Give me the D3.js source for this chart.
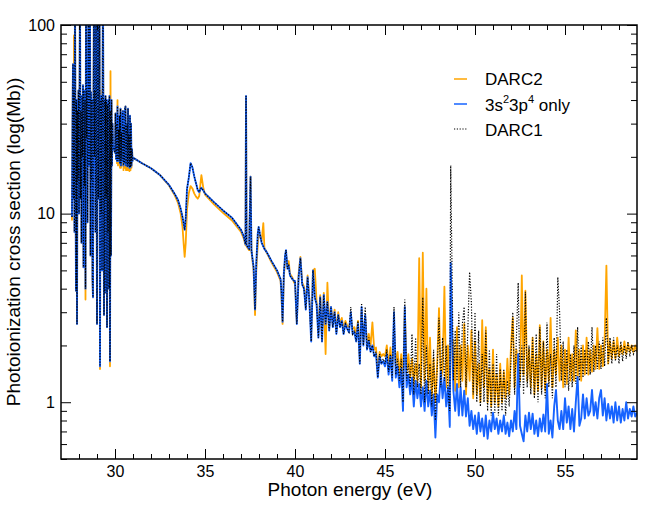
<!DOCTYPE html>
<html><head><meta charset="utf-8">
<script src="https://cdn.jsdelivr.net/npm/d3@7"></script>
<style>
body{margin:0;background:#fff}
svg{display:block}
text{font-family:"Liberation Sans",Arial,Helvetica,sans-serif}
</style>
</head><body>
<svg id="chart" width="660" height="510"></svg>
<script>
// ---------------- data ----------------
const xTicksMajor = [30, 35, 40, 45, 50, 55];
const xTicksMinor = [28, 29, 31, 32, 33, 34, 36, 37, 38, 39, 41, 42, 43, 44, 46, 47, 48, 49, 51, 52, 53, 54, 56, 57, 58];
const yTicksMajor = [1, 10, 100];
const yTicksMinor = [0.5, 0.6, 0.7, 0.8, 0.9, 2, 3, 4, 5, 6, 7, 8, 9, 20, 30, 40, 50, 60, 70, 80, 90];
const seriesNames = ["DARC2", "3s23p4 only", "DARC1"];

// [energy eV, 3s23p4-only (= DARC1 here), DARC2]
const lowRows = [
[27.611,9.6,9.2],[27.639,30,30],[27.667,62,62],[27.694,12,12],[27.722,45,88],[27.750,8,8],
[27.778,150,150],[27.806,20,20],[27.833,3.9,3.9],[27.861,40,40],[27.889,2.6,2.6],[27.917,35,35],
[27.944,15,15],[27.972,45,45],[28.000,10,10],[28.028,40,40],[28.056,150,150],[28.083,12,12],
[28.111,35,35],[28.139,7,7],[28.167,42,42],[28.194,20,20],[28.222,48,48],[28.250,5.2,5.2],
[28.278,45,45],[28.306,14,14],[28.333,40,40],[28.361,4.0,3.5],[28.389,130,130],[28.417,25,25],
[28.444,45,45],[28.472,9,9],[28.500,40,40],[28.528,150,150],[28.556,18,18],[28.583,46,46],
[28.611,150,150],[28.639,6,6],[28.667,44,44],[28.694,15,15],[28.722,40,40],[28.750,4.5,4.5],
[28.778,3.6,3.6],[28.806,42,42],[28.833,150,150],[28.861,20,20],[28.889,45,45],[28.917,8,8],
[28.944,150,150],[28.972,30,30],[29.000,2.6,2.6],[29.028,40,40],[29.056,150,150],[29.083,12,12],
[29.111,44,44],[29.139,150,150],[29.167,1.55,1.5],[29.194,40,45],[29.222,10,10],[29.250,42,42],
[29.278,5,5],[29.306,38,38],[29.333,150,150],[29.361,20,20],[29.389,2.9,2.9],[29.417,40,40],
[29.444,3.8,3.8],[29.472,42,42],[29.500,12,12],[29.528,40,40],[29.556,2.5,2.5],[29.583,38,38],
[29.611,8,8],[29.639,40,40],[29.667,4,4],[29.694,42,42],[29.722,1.65,1.55],[29.750,35,57],
[29.778,6,6],[29.806,40,40],[29.833,18,18],[29.861,30,30],[29.889,23,23],[29.944,22,22],
[30.000,21,21],[30.028,34,34],[30.056,19.5,19.5],[30.083,30,30],[30.111,19,18.5],[30.139,37,40],
[30.167,19,18],[30.194,28,28],[30.222,19.5,19],[30.250,33,33],[30.278,18.5,17.5],[30.306,36,36],
[30.333,18,17.5],[30.361,27,27],[30.389,19,18],[30.417,34,34],[30.444,35,35],[30.472,18,17],
[30.500,29,29],[30.528,18.5,17.5],[30.556,36,36],[30.583,37,37],[30.611,18,17],[30.639,26,26],
[30.667,30,30],[30.694,17.8,17],[30.722,36,36],[30.750,18,17],[30.778,26,26],[30.806,17.5,16.8],
[30.833,33,33],[30.861,17.6,17],[30.889,30,30],[30.917,18,17.5],[30.944,22,22],[30.972,19,19]
];

// [energy eV, 3s23p4-only (= DARC1 here), DARC2]
const midRows = [
[31.0,19.8,19.8],[31.5,18.5,18.5],[32.0,17.4,17.4],[32.5,16.0,16.0],[33.0,14.2,14.1],
[33.3,12.8,12.6],[33.5,11.8,11.4],[33.65,10.6,10.0],[33.75,9.6,8.5],[33.82,8.8,6.8],
[33.87,8.2,5.9],[33.93,9.5,7.0],[34.0,13.5,10.5],[34.1,15.5,12.8],[34.2,18.5,14.0],
[34.3,17.6,13.6],[34.4,15.8,12.8],[34.5,14.5,12.3],[34.6,13.3,12.0],[34.68,13.0,12.4],
[34.75,13.5,14.5],[34.8,13.7,16.0],[34.9,13.3,13.8],[35.0,12.8,12.6],[35.5,11.5,11.2],
[36.0,10.4,10.1],[36.5,9.5,9.2],[37.0,8.2,8.0],[37.15,7.6,7.4],[37.25,6.9,6.8],
[37.28,42,42],[37.31,6.8,6.7],[37.45,6.5,6.4],[37.53,15.7,15.7],[37.58,6.4,6.3],
[37.7,5.2,5.0],[37.78,3.1,2.9],[37.85,5.5,5.0],[37.93,7.8,6.8],[37.98,8.5,7.8],
[38.05,7.8,7.6],[38.15,7.0,7.2],[38.24,6.7,8.9],[38.3,6.5,6.6],[38.43,6.25,6.2],
[38.7,5.6,5.5],[39.0,5.0,4.9],[39.2,4.5,4.4],[39.25,3.8,3.6],[39.31,2.67,2.6],
[39.38,4.8,4.6],[39.45,6.0,5.7],[39.5,6.4,6.1],[39.58,5.1,5.3],[39.65,5.3,5.6],
[39.72,4.7,4.8],[39.85,4.5,4.6],[39.95,4.4,4.3]
];

// [energy eV, 3s23p4-only, DARC1, DARC2]
const highRows = [
[40.0,4.4,4.4,4.3],[40.1,2.6,2.6,2.7],[40.2,4.6,4.6,4.8],[40.3,5.8,5.8,5.9],[40.4,4.2,4.2,4.3],
[40.5,4.0,4.0,4.1],[40.6,3.1,3.1,3.3],[40.7,4.6,4.6,4.7],[40.8,3.4,3.4,3.5],[40.9,2.1,2.1,2.3],
[41.0,5.0,5.0,5.0],[41.1,3.6,3.6,5.1],[41.2,3.3,3.3,3.4],[41.3,2.2,2.2,2.4],[41.4,3.6,3.6,3.7],
[41.5,2.1,2.1,2.2],[41.6,3.7,3.7,3.8],[41.7,2.6,2.6,1.8],[41.8,3.4,3.4,4.3],[41.9,2.4,2.4,2.5],
[42.0,3.2,3.2,3.2],[42.1,2.5,2.5,2.6],[42.2,3.0,3.0,3.1],[42.3,2.3,2.3,2.4],[42.4,2.9,2.9,3.0],
[42.5,2.5,2.5,2.6],[42.6,2.7,2.7,2.8],[42.7,2.3,2.3,2.45],[42.8,2.6,2.6,2.7],[42.9,2.45,2.45,2.55],
[43.0,2.35,2.35,2.5],[43.1,3.0,3.2,2.8],[43.2,2.3,2.3,2.45],[43.3,2.35,2.4,2.5],[43.4,2.1,2.1,2.25],
[43.5,2.6,2.7,2.7],[43.6,1.6,1.6,1.75],[43.7,3.2,3.35,3.1],[43.8,2.0,2.0,2.1],[43.9,2.9,3.2,2.8],
[44.0,1.9,1.9,2.05],[44.1,2.1,2.2,2.3],[44.2,1.85,1.85,2.0],[44.3,2.0,2.0,2.65],[44.4,1.75,1.75,1.9],
[44.5,1.8,1.85,1.95],[44.6,1.35,1.35,1.45],[44.7,1.75,1.8,1.85],[44.8,1.6,1.6,1.75],[44.9,1.65,1.7,1.8],
[45.0,1.55,1.6,1.75],[45.1,1.8,1.9,2.0],[45.2,1.4,1.45,1.55],[45.3,1.75,1.8,1.95],[45.4,1.3,1.35,1.5],
[45.5,3.0,3.2,2.4],[45.6,1.35,1.4,1.6],[45.7,1.55,1.7,1.85],[45.8,1.2,1.3,1.4],[45.9,1.5,1.7,1.8],
[46.0,0.9,1.0,1.25],[46.1,3.2,3.5,3.2],[46.2,1.2,1.3,1.45],[46.3,1.4,1.6,1.8],[46.4,1.1,1.2,1.35],
[46.5,1.35,2.3,1.7],[46.6,0.95,1.1,1.25],[46.7,1.3,2.2,1.6],[46.8,1.05,1.2,1.3],[46.9,1.25,1.6,5.8],
[47.0,0.95,1.1,1.2],[47.1,1.2,3.6,6.2],[47.2,0.9,1.0,1.3],[47.3,1.3,2.0,4.0],[47.4,0.95,1.1,1.15],
[47.5,1.15,1.6,2.2],[47.6,0.85,0.95,1.05],[47.7,1.1,1.9,1.7],[47.8,0.65,0.8,1.0],[47.9,1.1,1.5,1.6],
[48.0,1.0,2.8,3.15],[48.1,1.45,1.2,1.3],[48.2,1.05,2.2,1.5],[48.3,1.35,1.3,4.1],[48.4,0.95,2.0,1.2],
[48.5,1.2,1.15,2.0],[48.6,0.74,0.9,1.0],[48.65,5.5,18,2.1],[48.8,1.15,1.3,2.13],[48.9,0.9,2.4,1.15],
[49.0,1.25,1.3,2.5],[49.1,0.85,3.0,1.2],[49.2,1.2,1.2,2.0],[49.3,0.85,2.6,1.3],[49.4,1.15,3.2,2.6],
[49.5,0.84,1.2,1.1],[49.6,1.05,2.4,2.0],[49.7,0.75,4.9,1.3],[49.8,0.9,3.35,2.4],[49.9,0.72,1.1,1.05],
[50.0,0.85,3.0,2.1],[50.1,0.68,1.0,1.1],[50.2,0.88,2.4,1.6],[50.3,0.7,0.95,1.0],[50.4,0.82,1.8,2.72],
[50.5,0.66,1.0,1.2],[50.6,0.85,2.4,2.5],[50.7,0.64,0.9,1.0],[50.8,0.8,1.9,1.5],[50.9,0.7,0.85,0.95],
[51.0,0.88,1.6,1.9],[51.1,0.72,0.88,1.0],[51.2,0.82,1.8,1.4],[51.3,0.68,0.85,0.95],[51.4,0.8,1.5,1.6],
[51.5,0.7,0.9,1.0],[51.6,0.85,1.5,1.45],[51.7,0.68,0.85,1.05],[51.8,0.78,1.3,1.7],[51.9,0.66,0.95,1.1],
[52.0,0.8,1.7,2.0],[52.1,0.7,3.0,2.8],[52.2,0.9,1.1,1.2],[52.3,0.72,2.2,1.9],[52.4,1.8,4.3,1.5],
[52.5,0.75,1.2,1.3],[52.6,0.68,2.0,4.7],[52.7,0.62,1.1,1.4],[52.8,0.85,3.85,3.9],[52.9,0.7,1.2,1.3],
[53.0,0.88,2.0,1.9],[53.1,0.72,1.1,1.2],[53.2,0.87,2.2,2.2],[53.3,0.68,1.05,1.1],[53.4,0.8,2.3,1.8],
[53.5,0.66,1.0,1.15],[53.6,0.82,2.5,2.56],[53.7,0.7,1.1,1.2],[53.8,0.86,2.1,2.1],[53.9,0.7,1.05,1.15],
[54.0,1.25,2.65,1.9],[54.1,0.68,1.2,1.3],[54.2,0.8,1.8,2.8],[54.3,0.65,1.05,1.2],[54.4,0.95,2.2,1.9],
[54.5,1.16,1.2,1.4],[54.6,0.8,4.6,2.2],[54.7,0.72,3.0,1.3],[54.8,0.9,1.3,2.0],[54.9,0.72,2.1,1.2],
[55.0,1.05,1.2,1.9],[55.1,0.78,1.9,1.25],[55.2,0.95,1.15,2.2],[55.3,0.72,1.8,1.3],[55.4,0.92,1.2,1.8],
[55.5,0.7,2.0,1.3],[55.6,1.0,1.25,2.4],[55.7,1.36,2.5,1.35],[55.8,0.75,1.3,1.9],[55.9,0.82,2.0,1.3],
[56.0,1.1,1.35,2.0],[56.1,0.82,1.9,1.4],[56.2,1.05,1.4,2.2],[56.3,0.85,2.1,1.4],[56.4,0.9,1.4,1.9],
[56.5,1.16,2.5,1.45],[56.6,0.85,1.45,2.0],[56.7,1.0,2.0,1.5],[56.8,0.82,1.5,2.47],[56.9,1.05,2.1,1.5],
[57.0,1.16,1.5,2.0],[57.1,0.85,2.2,1.55],[57.2,1.05,1.55,2.1],[57.3,0.8,2.8,5.3],[57.4,0.98,1.6,1.6],
[57.5,0.82,2.2,2.1],[57.6,0.95,1.6,1.7],[57.7,0.78,2.2,2.1],[57.8,1.0,1.65,1.7],[57.9,0.8,2.0,2.2],
[58.0,0.95,1.6,1.75],[58.1,0.78,2.1,2.0],[58.2,0.92,1.65,1.8],[58.3,0.8,2.0,2.1],[58.4,1.0,1.7,1.8],
[58.5,0.82,2.1,2.05],[58.6,0.92,1.75,1.85],[58.7,0.84,2.0,2.0],[58.8,0.95,1.8,1.85],[58.9,0.84,1.9,2.0],
[59.0,0.88,1.85,1.85]
];

// ---------------- build series ----------------
const darc2 = [].concat(lowRows.map(r => [r[0], r[2]]), midRows.map(r => [r[0], r[2]]), highRows.map(r => [r[0], r[3]]));
const only  = [].concat(lowRows.map(r => [r[0], r[1]]), midRows.map(r => [r[0], r[1]]), highRows.map(r => [r[0], r[1]]));
const darc1 = [].concat(lowRows.map(r => [r[0], r[1]]), midRows.map(r => [r[0], r[1]]), highRows.map(r => [r[0], r[2]]));

// ---------------- drawing ----------------
const L = 61, R = 637, T = 25, B = 459;
const svg = d3.select("#chart");
const x = d3.scaleLinear().domain([27, 59]).range([L, R]);
const y = d3.scaleLog().domain([0.5, 100]).range([B, T]);

svg.append("defs").append("clipPath").attr("id", "clip")
  .append("rect").attr("x", L).attr("y", T).attr("width", R - L).attr("height", B - T);

const line = d3.line().x(d => x(d[0])).y(d => y(d[1]));
const plot = svg.append("g").attr("clip-path", "url(#clip)");
plot.append("path").datum(darc2).attr("d", line).attr("fill", "none")
  .attr("stroke", "#ffa500").attr("stroke-width", 1.8).attr("stroke-linejoin", "round");
plot.append("path").datum(only).attr("d", line).attr("fill", "none")
  .attr("stroke", "#1663ff").attr("stroke-width", 1.9).attr("stroke-linejoin", "round");
plot.append("path").datum(darc1).attr("d", line).attr("fill", "none")
  .attr("stroke", "#000").attr("stroke-width", 1.2).attr("stroke-dasharray", "1.2,1.6");

function styleAxis(g) {
  g.select(".domain").remove();
  g.selectAll(".tick line").attr("stroke", "#000").attr("stroke-width", 1);
  g.selectAll(".tick text").attr("fill", "#000").style("font-size", "16px")
    .style("font-family", "'Liberation Sans', Arial, Helvetica, sans-serif");
}
// bottom
svg.append("g").attr("transform", `translate(0,${B})`)
  .call(d3.axisBottom(x).tickValues(xTicksMajor).tickSizeInner(-10).tickSizeOuter(0).tickPadding(7).tickFormat(d3.format("d")))
  .call(styleAxis);
svg.append("g").attr("transform", `translate(0,${B})`)
  .call(d3.axisBottom(x).tickValues(xTicksMinor).tickSizeInner(-5).tickSizeOuter(0).tickFormat(""))
  .call(styleAxis);
// top
svg.append("g").attr("transform", `translate(0,${T})`)
  .call(d3.axisTop(x).tickValues(xTicksMajor).tickSizeInner(-10).tickSizeOuter(0).tickFormat(""))
  .call(styleAxis);
svg.append("g").attr("transform", `translate(0,${T})`)
  .call(d3.axisTop(x).tickValues(xTicksMinor).tickSizeInner(-5).tickSizeOuter(0).tickFormat(""))
  .call(styleAxis);
// left
svg.append("g").attr("transform", `translate(${L},0)`)
  .call(d3.axisLeft(y).tickValues(yTicksMajor).tickSizeInner(-10).tickSizeOuter(0).tickPadding(6).tickFormat(d3.format("d")))
  .call(styleAxis);
svg.append("g").attr("transform", `translate(${L},0)`)
  .call(d3.axisLeft(y).tickValues(yTicksMinor).tickSizeInner(-6).tickSizeOuter(0).tickFormat(""))
  .call(styleAxis);
// right
svg.append("g").attr("transform", `translate(${R},0)`)
  .call(d3.axisRight(y).tickValues(yTicksMajor).tickSizeInner(-10).tickSizeOuter(0).tickFormat(""))
  .call(styleAxis);
svg.append("g").attr("transform", `translate(${R},0)`)
  .call(d3.axisRight(y).tickValues(yTicksMinor).tickSizeInner(-6).tickSizeOuter(0).tickFormat(""))
  .call(styleAxis);

// frame
svg.append("rect").attr("x", L).attr("y", T).attr("width", R - L).attr("height", B - T)
  .attr("fill", "none").attr("stroke", "#000").attr("stroke-width", 1.5);

// axis titles
svg.append("text").attr("x", 350).attr("y", 496).attr("text-anchor", "middle")
  .style("font-size", "19px").text("Photon energy (eV)");
svg.append("text").attr("transform", "translate(20,242) rotate(-90)").attr("text-anchor", "middle")
  .style("font-size", "19px").text("Photoionization cross section (log(Mb))");

// legend
const lg = svg.append("g");
const rows = [
  {color: "#ffa500", dash: null, w: 1.5, y: 79},
  {color: "#1663ff", dash: null, w: 1.5, y: 104},
  {color: "#000", dash: "1.2,1.6", w: 1.2, y: 129}
];
rows.forEach(r => {
  lg.append("line").attr("x1", 454).attr("x2", 467).attr("y1", r.y).attr("y2", r.y)
    .attr("stroke", r.color).attr("stroke-width", r.w).attr("stroke-dasharray", r.dash);
});
lg.append("text").attr("x", 485).attr("y", 85).style("font-size", "17px").text(seriesNames[0]);
const t2 = lg.append("text").attr("x", 485).attr("y", 111).style("font-size", "17px");
t2.append("tspan").text("3s");
t2.append("tspan").attr("dy", -8).style("font-size", "11px").text("2");
t2.append("tspan").attr("dy", 8).text("3p");
t2.append("tspan").attr("dy", -8).style("font-size", "11px").text("4");
t2.append("tspan").attr("dy", 8).text(" only");
lg.append("text").attr("x", 485).attr("y", 136).style("font-size", "17px").text(seriesNames[2]);
</script>
</body></html>
